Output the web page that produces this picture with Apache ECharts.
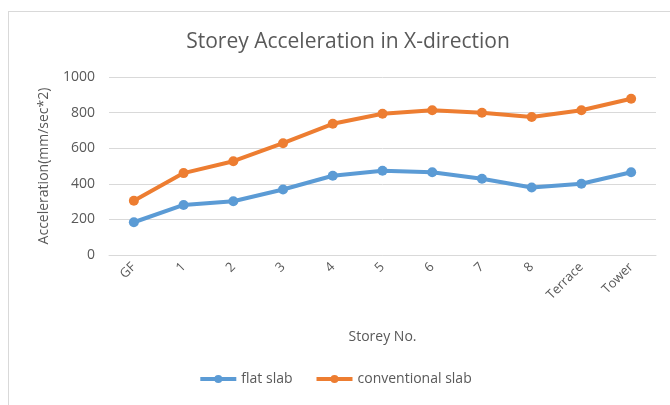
<!DOCTYPE html>
<html><head><meta charset="utf-8">
<script src="https://cdn.jsdelivr.net/npm/echarts@6/dist/echarts.min.js"></script>
<style>html,body{margin:0;padding:0;background:#fff;}
#frame{position:absolute;left:8px;top:11px;width:700px;height:420px;border:1px solid #d9d9d9;box-sizing:border-box;}
#c{position:absolute;left:0;top:0;width:670px;height:405px;}</style>
</head><body>
<div id="frame"></div>
<div id="c"></div>
<script>
const categories = ['GF','1','2','3','4','5','6','7','8','Terrace','Tower'];
const flatSlab = [184, 281, 302, 368, 445, 473, 465, 428, 379, 400, 465];
const conventionalSlab = [305, 460, 527, 628, 737, 794, 813, 799, 775, 813, 878];
const yTicks = [0, 200, 400, 600, 800, 1000];

const chart = echarts.init(document.getElementById('c'));
const font = 'Open Sans';
chart.setOption({
  animation: false,
  title: {text: 'Storey Acceleration in X-direction', left: 343, top: 27, textAlign: 'center',
    textStyle: {fontFamily: font, fontSize: 21, fontWeight: 'normal', color: '#595959'}},
  grid: {left: 109, right: 14, top: 77, bottom: 150},
  legend: {bottom: 14, left: 'center', itemWidth: 36, itemHeight: 10, itemGap: 22,
    textStyle: {fontFamily: font, fontSize: 14, color: '#595959'},
    data: [
      {name: 'flat slab', itemStyle: {color: '#5B9BD5'}, lineStyle: {width: 4, color: '#5B9BD5'}},
      {name: 'conventional slab', itemStyle: {color: '#ED7D31'}, lineStyle: {width: 4, color: '#ED7D31'}}
    ]},
  xAxis: {type: 'category', data: categories, boundaryGap: true,
    name: 'Storey No.', nameLocation: 'middle', nameGap: 75,
    nameTextStyle: {fontFamily: font, fontSize: 14, color: '#595959'},
    axisLine: {lineStyle: {color: '#d9d9d9'}}, axisTick: {show: false},
    axisLabel: {rotate: 45, fontFamily: font, fontSize: 13, color: '#595959', margin: 10}},
  yAxis: {type: 'value', min: yTicks[0], max: yTicks[yTicks.length-1], interval: 200,
    name: 'Acceleration(mm/sec*2)', nameLocation: 'middle', nameGap: 58,
    nameTextStyle: {fontFamily: font, fontSize: 14, color: '#595959'},
    axisLine: {show: false}, axisTick: {show: false},
    axisLabel: {fontFamily: font, fontSize: 14, color: '#595959', margin: 14, formatter: v => String(v)},
    splitLine: {lineStyle: {color: '#d9d9d9'}}},
  series: [
    {name: 'flat slab', type: 'line', data: flatSlab, symbol: 'circle', symbolSize: 10,
     lineStyle: {width: 4, color: '#5B9BD5'}, itemStyle: {color: '#5B9BD5'}},
    {name: 'conventional slab', type: 'line', data: conventionalSlab, symbol: 'circle', symbolSize: 10,
     lineStyle: {width: 4, color: '#ED7D31'}, itemStyle: {color: '#ED7D31'}}
  ]
});
</script>
</body></html>
